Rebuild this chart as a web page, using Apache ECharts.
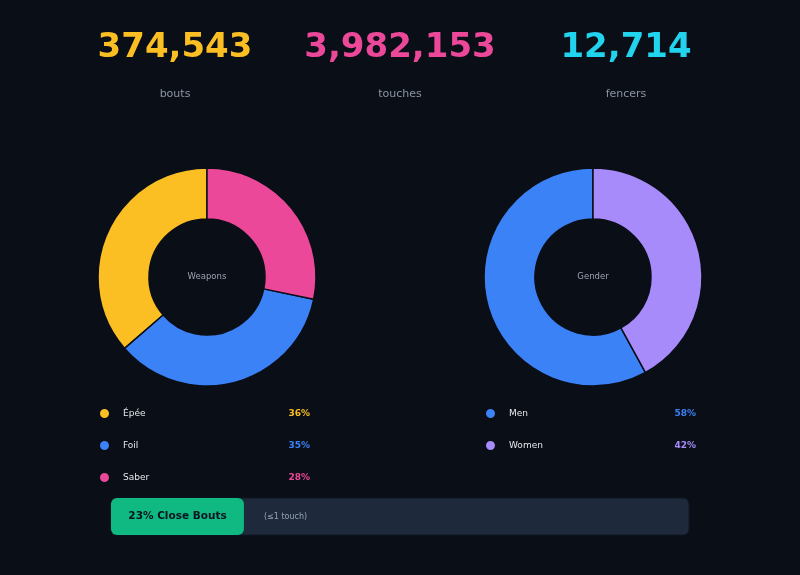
<!DOCTYPE html>
<html>
<head>
<meta charset="utf-8">
<script src="https://cdn.jsdelivr.net/npm/echarts@6/dist/echarts.min.js"></script>
<style>
  html, body { margin: 0; padding: 0; background: #0a0e17; }
  #chart { width: 800px; height: 575px; }
</style>
</head>
<body>
<div id="chart"></div>
<script>
// headline numbers
const statValues = [374543, 3982153, 12714];
const statLabels = ['bouts', 'touches', 'fencers'];
const statColors = ['#fbbf24', '#ec4899', '#22d3ee'];

// weapon split (share of bouts, %)
const weaponNames = ['Épée', 'Foil', 'Saber'];
const weaponValues = [36, 35, 28];
const weaponColors = ['#fbbf24', '#3b82f6', '#ec4899'];

// gender split (%)
const genderNames = ['Men', 'Women'];
const genderValues = [58, 42];
const genderColors = ['#3b82f6', '#a78bfa'];

// close bouts (decided by one touch or less)
const closeBoutsPct = 23;
const closeBoutsLabel = 'Close Bouts';
const closeBoutsNote = '(≤1 touch)';

const bg = '#0a0e17';
const font = 'DejaVu Sans, sans-serif';
const statX = [175, 400, 626];

function fmt(n) {
    return n.toLocaleString('en-US');
}

function pieSeries(name, names, values, colors, cx) {
    return {
        name: name,
        type: 'pie',
        center: [cx, 277],
        radius: [58, 109],
        clockwise: false,
        startAngle: 90,
        avoidLabelOverlap: false,
        silent: true,
        label: {
            show: true,
            position: 'center',
            formatter: function () { return name; },
            color: '#9ca3af',
            fontSize: 8.5,
            fontFamily: font
        },
        labelLine: { show: false },
        itemStyle: { borderColor: bg, borderWidth: 1.5 },
        data: names.map((n, i) => ({
            name: n,
            value: values[i],
            itemStyle: { color: colors[i] },
            label: { show: i === 0 }
        }))
    };
}

function pieLegend(names, values, colors, left) {
    const rich = {
        n: { width: 164, color: '#e5e7eb', fontSize: 9, fontFamily: font, padding: [0, 0, 0, 8] }
    };
    colors.forEach((c, i) => {
        rich['p' + i] = { width: 23, align: 'right', color: c, fontSize: 9, fontWeight: 'bold', fontFamily: font };
    });
    return {
        data: names,
        orient: 'vertical',
        left: left,
        top: 407,
        padding: 0,
        icon: 'circle',
        itemWidth: 11,
        itemHeight: 11,
        itemGap: 19,
        selectedMode: false,
        formatter: function (name) {
            const i = names.indexOf(name);
            return '{n|' + name + '}{p' + i + '|' + values[i] + '%}';
        },
        textStyle: { rich: rich }
    };
}

const chart = echarts.init(document.getElementById('chart'));

chart.setOption({
    backgroundColor: bg,
    animation: false,
    title: statValues.map((v, i) => ({
        text: fmt(v),
        subtext: statLabels[i],
        left: statX[i],
        top: 31,
        padding: 0,
        textAlign: 'center',
        itemGap: 24,
        textStyle: { color: statColors[i], fontSize: 34, fontWeight: 'bold', fontFamily: font },
        subtextStyle: { color: '#8b95a5', fontSize: 11, fontFamily: font }
    })),
    legend: [
        pieLegend(weaponNames, weaponValues, weaponColors, 98),
        pieLegend(genderNames, genderValues, genderColors, 484)
    ],
    grid: { left: 111, top: 498, width: 578, height: 37 },
    xAxis: { type: 'value', min: 0, max: 100, show: false },
    yAxis: { type: 'category', data: [''], show: false },
    series: [
        pieSeries('Weapons', weaponNames, weaponValues, weaponColors, 207),
        pieSeries('Gender', genderNames, genderValues, genderColors, 593),
        {
            type: 'bar',
            data: [closeBoutsPct],
            barWidth: 37,
            silent: true,
            showBackground: true,
            backgroundStyle: { color: '#1e293b', borderRadius: 6, borderColor: '#111827', borderWidth: 1 },
            itemStyle: { color: '#10b981', borderRadius: 6 },
            label: {
                show: true,
                position: 'insideLeft',
                distance: 0,
                formatter: '{a|{c}% ' + closeBoutsLabel + '}{b|' + closeBoutsNote + '}',
                rich: {
                    a: { width: 133, align: 'center', color: '#0b1220', fontSize: 10.5, fontWeight: 'bold', fontFamily: font },
                    b: { color: '#94a3b8', fontSize: 8, fontFamily: font, padding: [0, 0, 0, 20] }
                }
            }
        }
    ]
});
</script>
</body>
</html>
